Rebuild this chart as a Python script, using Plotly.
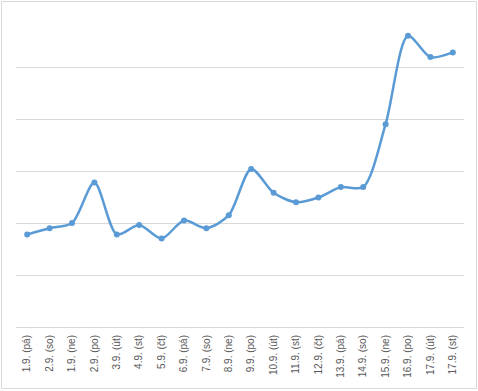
import plotly.graph_objects as go

labels = ["1.9. (pá)", "2.9. (so)", "1.9. (ne)", "2.9. (po)", "3.9. (út)", "4.9. (st)",
          "5.9. (čt)", "6.9. (pá)", "7.9. (so)", "8.9. (ne)", "9.9. (po)", "10.9. (út)",
          "11.9. (st)", "12.9. (čt)", "13.9. (pá)", "14.9. (so)", "15.9. (ne)", "16.9. (po)",
          "17.9. (út)", "17.9. (st)"]
values = [1.78, 1.90, 2.00, 2.78, 1.78, 1.96, 1.70, 2.05, 1.90, 2.15,
          3.04, 2.58, 2.40, 2.49, 2.69, 2.69, 3.90, 5.60, 5.19, 5.28]

W, H = 478, 391
L, R, T, B = 16, 14, 15, 64
pw, ph = W - L - R, H - T - B

xs = list(range(len(labels)))

fig = go.Figure()
fig.add_trace(go.Scatter(
    x=xs, y=values, mode="lines+markers",
    line=dict(color="#5B9BD5", width=2.5, shape="spline", smoothing=0.8),
    marker=dict(color="#5B9BD5", size=6),
    hoverinfo="skip",
))

fig.update_layout(
    width=W, height=H,
    margin=dict(l=L, r=R, t=T, b=B, autoexpand=False),
    paper_bgcolor="white", plot_bgcolor="white",
    showlegend=False,
    xaxis=dict(
        range=[-0.5, len(labels) - 0.5], automargin=False,
        tickvals=xs, ticktext=labels, tickangle=-90,
        tickfont=dict(family="Liberation Sans, Arial, sans-serif", size=10, color="#595959"),
        showgrid=False, zeroline=False, showline=True, linecolor="#d9d9d9", linewidth=1,
        ticks="outside", ticklen=3, tickcolor="rgba(0,0,0,0)",
    ),
    yaxis=dict(
        range=[0, 6], dtick=1, showticklabels=False, automargin=False,
        showgrid=True, gridcolor="#d9d9d9", gridwidth=1,
        zeroline=False, showline=False, ticks="",
    ),
    shapes=[dict(
        type="rect", xref="paper", yref="paper",
        x0=(1.5 - L) / pw, x1=(476.5 - L) / pw,
        y0=-(388.5 - T - ph) / ph, y1=1 + (T - 1.5) / ph,
        line=dict(color="#d9d9d9", width=1), fillcolor="rgba(0,0,0,0)",
        layer="below",
    )],
)

fig.write_html("out.html", config={"displayModeBar": False},
               post_script="document.body.style.margin='0';document.body.style.overflow='hidden';")
